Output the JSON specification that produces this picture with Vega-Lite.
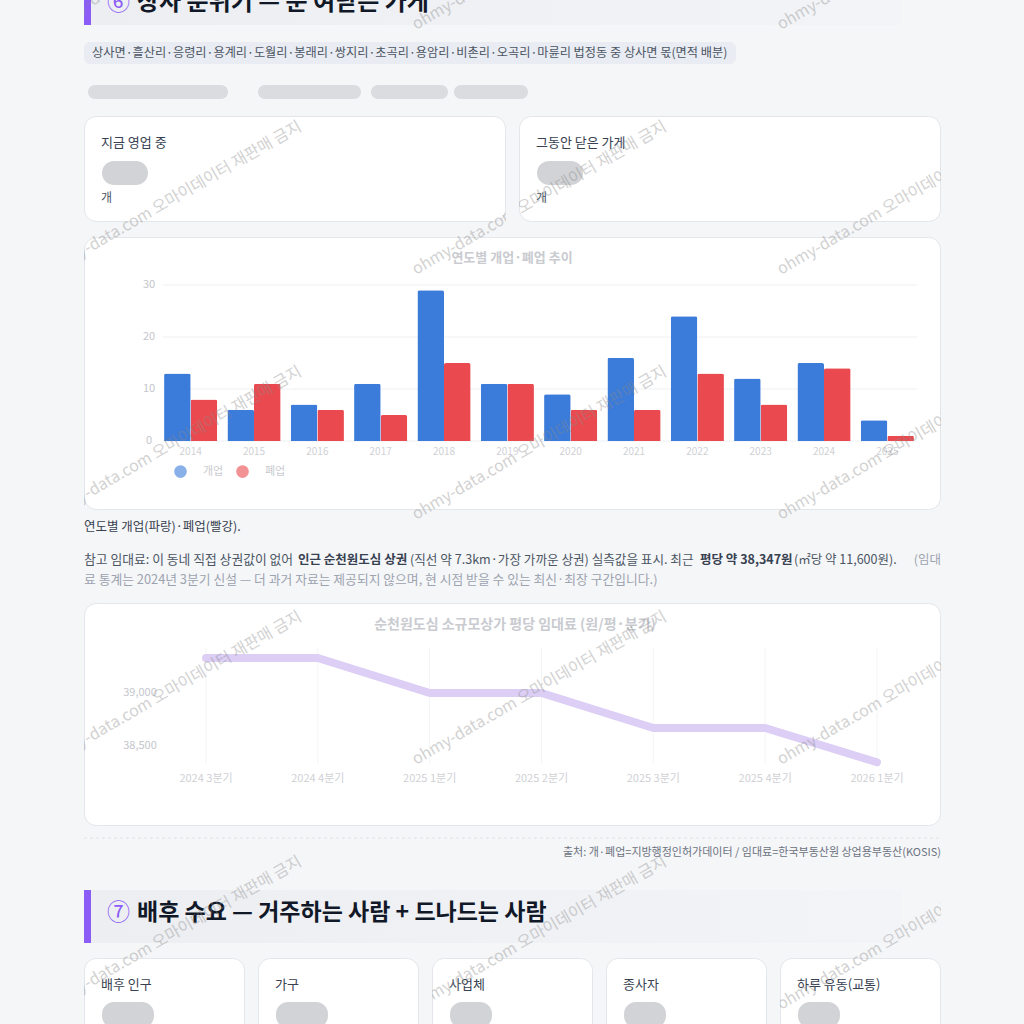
{
  "$schema": "https://vega.github.io/schema/vega-lite/v6.json",
  "background": "#f5f6f8",
  "padding": {"left": 83, "top": 0, "right": 84, "bottom": 0},
  "spacing": 0,
  "resolve": {"legend": {"color": "independent"}, "scale": {"color": "independent"}},
  "config": {
    "font": "Noto Sans CJK KR",
    "view": {"stroke": null},
    "text": {"font": "Noto Sans CJK KR"}
  },
  "vconcat": [
    {
      "width": 857,
      "height": 116,
      "data": {"values": [{"k": 1}]},
      "layer": [
        {"mark": {"type": "rect", "color": {"gradient": "linear", "x1": 0, "x2": 1, "y1": 0, "y2": 0, "stops": [{"offset": 0, "color": "#eceef2"}, {"offset": 1, "color": "#f3f4f7"}]}},
         "encoding": {"x": {"value": 0}, "x2": {"value": 817}, "y": {"value": 0}, "y2": {"value": 25}}},
        {"mark": {"type": "rect", "color": "#8b5cf6"},
         "encoding": {"x": {"value": 0}, "x2": {"value": 7}, "y": {"value": 0}, "y2": {"value": 25}}},
        {"mark": {"type": "text", "text": "⑥", "fontSize": 23, "color": "#8b5cf6", "align": "left", "baseline": "middle", "clip": true},
         "encoding": {"x": {"value": 23}, "y": {"value": 3}}},
        {"mark": {"type": "text", "text": "상사 분위기 — 문 여닫은 가게", "fontSize": 24, "fontWeight": "bold", "color": "#111827", "align": "left", "baseline": "middle", "clip": true},
         "encoding": {"x": {"value": 53}, "y": {"value": 3}}},
        {"mark": {"type": "rect", "color": "#e9ecf2", "cornerRadius": 6},
         "encoding": {"x": {"value": 0}, "x2": {"value": 652}, "y": {"value": 42}, "y2": {"value": 64}}},
        {"mark": {"type": "text", "text": "상사면·흘산리·응령리·용계리·도월리·봉래리·쌍지리·초곡리·용암리·비촌리·오곡리·마륜리 법정동 중 상사면 몫(면적 배분)", "fontSize": 12.2, "color": "#4b5563", "align": "left", "baseline": "middle"},
         "encoding": {"x": {"value": 8}, "y": {"value": 53}}},
        {"mark": {"type": "rect", "color": "#cfd1d6", "opacity": 0.7, "cornerRadius": 7},
         "encoding": {"x": {"value": 4}, "x2": {"value": 144}, "y": {"value": 85}, "y2": {"value": 99}}},
        {"mark": {"type": "rect", "color": "#cfd1d6", "opacity": 0.7, "cornerRadius": 7},
         "encoding": {"x": {"value": 174}, "x2": {"value": 277}, "y": {"value": 85}, "y2": {"value": 99}}},
        {"mark": {"type": "rect", "color": "#cfd1d6", "opacity": 0.7, "cornerRadius": 7},
         "encoding": {"x": {"value": 287}, "x2": {"value": 364}, "y": {"value": 85}, "y2": {"value": 99}}},
        {"mark": {"type": "rect", "color": "#cfd1d6", "opacity": 0.7, "cornerRadius": 7},
         "encoding": {"x": {"value": 370}, "x2": {"value": 444}, "y": {"value": 85}, "y2": {"value": 99}}},
        {"mark": {"type": "text", "text": "ohmy-data.com 오마이데이터 재판매 금지", "angle": -30, "fontSize": 16, "color": "#8a8a8a", "opacity": 0.38, "align": "left", "baseline": "alphabetic", "clip": true},
         "encoding": {"x": {"value": -33}, "y": {"value": 30}}},
        {"mark": {"type": "text", "text": "ohmy-data.com 오마이데이터 재판매 금지", "angle": -30, "fontSize": 16, "color": "#8a8a8a", "opacity": 0.38, "align": "left", "baseline": "alphabetic", "clip": true},
         "encoding": {"x": {"value": 332}, "y": {"value": 30}}},
        {"mark": {"type": "text", "text": "ohmy-data.com 오마이데이터 재판매 금지", "angle": -30, "fontSize": 16, "color": "#8a8a8a", "opacity": 0.38, "align": "left", "baseline": "alphabetic", "clip": true},
         "encoding": {"x": {"value": 697}, "y": {"value": 30}}}
      ]
    },
    {
      "spacing": 13,
      "hconcat": [
        {
          "width": 422, "height": 121,
          "data": {"values": [{"k": 1}]},
          "layer": [
            {"mark": {"type": "rect", "color": "#ffffff", "stroke": "#e3e6eb", "strokeWidth": 1, "cornerRadius": 12},
             "encoding": {"x": {"value": 0.5}, "x2": {"value": 421.5}, "y": {"value": 0.5}, "y2": {"value": 105.5}}},
            {"mark": {"type": "text", "text": "지금 영업 중", "fontSize": 13, "color": "#374151", "align": "left", "baseline": "middle"},
             "encoding": {"x": {"value": 17}, "y": {"value": 27}}},
            {"mark": {"type": "rect", "color": "#b4b6bb", "opacity": 0.6, "cornerRadius": 12},
             "encoding": {"x": {"value": 18}, "x2": {"value": 64}, "y": {"value": 45}, "y2": {"value": 69}}},
            {"mark": {"type": "text", "text": "개", "fontSize": 12, "color": "#4b5563", "align": "left", "baseline": "middle"},
             "encoding": {"x": {"value": 17}, "y": {"value": 82}}},
            {"mark": {"type": "text", "text": "ohmy-data.com 오마이데이터 재판매 금지", "angle": -30, "fontSize": 16, "color": "#8a8a8a", "opacity": 0.38, "align": "left", "baseline": "alphabetic", "clip": true},
             "encoding": {"x": {"value": -33}, "y": {"value": 159}}},
            {"mark": {"type": "text", "text": "ohmy-data.com 오마이데이터 재판매 금지", "angle": -30, "fontSize": 16, "color": "#8a8a8a", "opacity": 0.38, "align": "left", "baseline": "alphabetic", "clip": true},
             "encoding": {"x": {"value": 332}, "y": {"value": 159}}}
          ]
        },
        {
          "width": 422, "height": 121,
          "data": {"values": [{"k": 1}]},
          "layer": [
            {"mark": {"type": "rect", "color": "#ffffff", "stroke": "#e3e6eb", "strokeWidth": 1, "cornerRadius": 12},
             "encoding": {"x": {"value": 0.5}, "x2": {"value": 421.5}, "y": {"value": 0.5}, "y2": {"value": 105.5}}},
            {"mark": {"type": "text", "text": "그동안 닫은 가게", "fontSize": 13, "color": "#374151", "align": "left", "baseline": "middle"},
             "encoding": {"x": {"value": 17}, "y": {"value": 27}}},
            {"mark": {"type": "rect", "color": "#b4b6bb", "opacity": 0.6, "cornerRadius": 12},
             "encoding": {"x": {"value": 18}, "x2": {"value": 64}, "y": {"value": 45}, "y2": {"value": 69}}},
            {"mark": {"type": "text", "text": "개", "fontSize": 12, "color": "#4b5563", "align": "left", "baseline": "middle"},
             "encoding": {"x": {"value": 17}, "y": {"value": 82}}},
            {"mark": {"type": "text", "text": "ohmy-data.com 오마이데이터 재판매 금지", "angle": -30, "fontSize": 16, "color": "#8a8a8a", "opacity": 0.38, "align": "left", "baseline": "alphabetic", "clip": true},
             "encoding": {"x": {"value": -103}, "y": {"value": 159}}},
            {"mark": {"type": "text", "text": "ohmy-data.com 오마이데이터 재판매 금지", "angle": -30, "fontSize": 16, "color": "#8a8a8a", "opacity": 0.38, "align": "left", "baseline": "alphabetic", "clip": true},
             "encoding": {"x": {"value": 262}, "y": {"value": 159}}}
          ]
        }
      ]
    },
    {
      "width": 857, "height": 273,
      "layer": [
        {"data": {"values": [{"k": 1}]},
         "mark": {"type": "rect", "color": "#ffffff", "stroke": "#e3e6eb", "strokeWidth": 1, "cornerRadius": 12},
         "encoding": {"x": {"value": 0.5}, "x2": {"value": 856.5}, "y": {"value": 0.5}, "y2": {"value": 272.5}}},
        {"data": {"values": [{"t": "연도별 개업·폐업 추이"}]},
         "mark": {"type": "text", "fontSize": 13, "fontWeight": "bold", "color": "#c9cbd0", "baseline": "middle"},
         "encoding": {"text": {"field": "t", "type": "nominal"}, "x": {"value": 428}, "y": {"value": 21}}},
        {"data": {"values": [{"v": 0}, {"v": 10}, {"v": 20}, {"v": 30}]},
         "mark": {"type": "rule", "color": "#eef0f3"},
         "encoding": {"y": {"field": "v", "type": "quantitative", "scale": {"domain": [0, 30], "range": [204, 48], "nice": false}, "axis": null},
                      "x": {"value": 79}, "x2": {"value": 833}}},
        {"data": {"values": [{"v": 0}, {"v": 10}, {"v": 20}, {"v": 30}]},
         "mark": {"type": "text", "fontSize": 11, "color": "#c4c6cb", "baseline": "middle"},
         "encoding": {"y": {"field": "v", "type": "quantitative", "axis": null},
                      "x": {"value": 65}, "text": {"field": "v", "type": "quantitative"}}},
        {"data": {"values": [
          {"year": 2014, "kind": "개업", "n": 13}, {"year": 2014, "kind": "폐업", "n": 8},
          {"year": 2015, "kind": "개업", "n": 6}, {"year": 2015, "kind": "폐업", "n": 11},
          {"year": 2016, "kind": "개업", "n": 7}, {"year": 2016, "kind": "폐업", "n": 6},
          {"year": 2017, "kind": "개업", "n": 11}, {"year": 2017, "kind": "폐업", "n": 5},
          {"year": 2018, "kind": "개업", "n": 29}, {"year": 2018, "kind": "폐업", "n": 15},
          {"year": 2019, "kind": "개업", "n": 11}, {"year": 2019, "kind": "폐업", "n": 11},
          {"year": 2020, "kind": "개업", "n": 9}, {"year": 2020, "kind": "폐업", "n": 6},
          {"year": 2021, "kind": "개업", "n": 16}, {"year": 2021, "kind": "폐업", "n": 6},
          {"year": 2022, "kind": "개업", "n": 24}, {"year": 2022, "kind": "폐업", "n": 13},
          {"year": 2023, "kind": "개업", "n": 12}, {"year": 2023, "kind": "폐업", "n": 7},
          {"year": 2024, "kind": "개업", "n": 15}, {"year": 2024, "kind": "폐업", "n": 14},
          {"year": 2025, "kind": "개업", "n": 4}, {"year": 2025, "kind": "폐업", "n": 1}
         ]},
         "mark": {"type": "bar", "cornerRadiusTopLeft": 2, "cornerRadiusTopRight": 2},
         "encoding": {
           "x": {"field": "year", "type": "ordinal", "scale": {"range": [75, 835], "paddingInner": 0.16, "paddingOuter": 0.08}, "axis": null},
           "xOffset": {"field": "kind", "type": "nominal", "sort": ["개업", "폐업"], "scale": {"paddingInner": 0}},
           "y": {"field": "n", "type": "quantitative", "axis": null},
           "color": {"field": "kind", "type": "nominal",
                     "scale": {"domain": ["개업", "폐업"], "range": ["#3b7bd9", "#ea4a4f"]},
                     "legend": {"orient": "none", "legendX": 90, "legendY": 228, "direction": "horizontal", "title": null,
                                "symbolType": "circle", "symbolSize": 160, "symbolOpacity": 0.6, "symbolStrokeWidth": 0,
                                "labelColor": "#c9cbd0", "labelFontSize": 11, "labelOffset": 16, "columnPadding": 12, "padding": 0}}
         }},
        {"data": {"values": [{"year": 2014}, {"year": 2015}, {"year": 2016}, {"year": 2017}, {"year": 2018}, {"year": 2019}, {"year": 2020}, {"year": 2021}, {"year": 2022}, {"year": 2023}, {"year": 2024}, {"year": 2025}]},
         "mark": {"type": "text", "fontSize": 10, "color": "#cfd1d5", "baseline": "middle"},
         "encoding": {"x": {"field": "year", "type": "ordinal", "axis": null}, "y": {"value": 215}, "text": {"field": "year", "type": "nominal"}}},
        {"data": {"values": [{"k": 1}]},
         "mark": {"type": "text", "text": "ohmy-data.com 오마이데이터 재판매 금지", "angle": -30, "fontSize": 16, "color": "#8a8a8a", "opacity": 0.38, "align": "left", "baseline": "alphabetic", "clip": true},
         "encoding": {"x": {"value": -33}, "y": {"value": 38}}},
        {"data": {"values": [{"k": 1}]},
         "mark": {"type": "text", "text": "ohmy-data.com 오마이데이터 재판매 금지", "angle": -30, "fontSize": 16, "color": "#8a8a8a", "opacity": 0.38, "align": "left", "baseline": "alphabetic", "clip": true},
         "encoding": {"x": {"value": 332}, "y": {"value": 38}}},
        {"data": {"values": [{"k": 1}]},
         "mark": {"type": "text", "text": "ohmy-data.com 오마이데이터 재판매 금지", "angle": -30, "fontSize": 16, "color": "#8a8a8a", "opacity": 0.38, "align": "left", "baseline": "alphabetic", "clip": true},
         "encoding": {"x": {"value": 697}, "y": {"value": 38}}},
        {"data": {"values": [{"k": 1}]},
         "mark": {"type": "text", "text": "ohmy-data.com 오마이데이터 재판매 금지", "angle": -30, "fontSize": 16, "color": "#8a8a8a", "opacity": 0.38, "align": "left", "baseline": "alphabetic", "clip": true},
         "encoding": {"x": {"value": -33}, "y": {"value": 283}}},
        {"data": {"values": [{"k": 1}]},
         "mark": {"type": "text", "text": "ohmy-data.com 오마이데이터 재판매 금지", "angle": -30, "fontSize": 16, "color": "#8a8a8a", "opacity": 0.38, "align": "left", "baseline": "alphabetic", "clip": true},
         "encoding": {"x": {"value": 332}, "y": {"value": 283}}},
        {"data": {"values": [{"k": 1}]},
         "mark": {"type": "text", "text": "ohmy-data.com 오마이데이터 재판매 금지", "angle": -30, "fontSize": 16, "color": "#8a8a8a", "opacity": 0.38, "align": "left", "baseline": "alphabetic", "clip": true},
         "encoding": {"x": {"value": 697}, "y": {"value": 283}}}
      ]
    },
    {
      "width": 857, "height": 93,
      "data": {"values": [{"k": 1}]},
      "layer": [
        {"mark": {"type": "text", "text": "연도별 개업(파랑)·폐업(빨강).", "fontSize": 12.5, "color": "#374151", "align": "left", "baseline": "middle"},
         "encoding": {"x": {"value": 0}, "y": {"value": 17}}},
        {"mark": {"type": "text", "text": "참고 임대료: 이 동네 직접 상권값이 없어", "fontSize": 12.8, "color": "#4b5563", "align": "left", "baseline": "middle"},
         "encoding": {"x": {"value": 0}, "y": {"value": 50}}},
        {"mark": {"type": "text", "text": "인근 순천원도심 상권", "fontSize": 12.5, "fontWeight": "bold", "color": "#374151", "align": "left", "baseline": "middle"},
         "encoding": {"x": {"value": 214}, "y": {"value": 50}}},
        {"mark": {"type": "text", "text": "(직선 약 7.3km·가장 가까운 상권) 실측값을 표시. 최근", "fontSize": 12.6, "color": "#4b5563", "align": "left", "baseline": "middle"},
         "encoding": {"x": {"value": 326}, "y": {"value": 50}}},
        {"mark": {"type": "text", "text": "평당 약 38,347원", "fontSize": 12.5, "fontWeight": "bold", "color": "#374151", "align": "left", "baseline": "middle"},
         "encoding": {"x": {"value": 616}, "y": {"value": 50}}},
        {"mark": {"type": "text", "text": "(㎡당 약 11,600원).", "fontSize": 12.5, "color": "#4b5563", "align": "left", "baseline": "middle"},
         "encoding": {"x": {"value": 710}, "y": {"value": 50}}},
        {"mark": {"type": "text", "text": "(임대", "fontSize": 12.5, "color": "#9ca3af", "align": "right", "baseline": "middle"},
         "encoding": {"x": {"value": 857}, "y": {"value": 50}}},
        {"mark": {"type": "text", "text": "료 통계는 2024년 3분기 신설 — 더 과거 자료는 제공되지 않으며, 현 시점 받을 수 있는 최신·최장 구간입니다.)", "fontSize": 12.8, "color": "#9ca3af", "align": "left", "baseline": "middle"},
         "encoding": {"x": {"value": 0}, "y": {"value": 70}}},
        {"mark": {"type": "text", "text": "ohmy-data.com 오마이데이터 재판매 금지", "angle": -30, "fontSize": 16, "color": "#8a8a8a", "opacity": 0.38, "align": "left", "baseline": "alphabetic", "clip": true},
         "encoding": {"x": {"value": 332}, "y": {"value": 10}}},
        {"mark": {"type": "text", "text": "ohmy-data.com 오마이데이터 재판매 금지", "angle": -30, "fontSize": 16, "color": "#8a8a8a", "opacity": 0.38, "align": "left", "baseline": "alphabetic", "clip": true},
         "encoding": {"x": {"value": 697}, "y": {"value": 10}}}
      ]
    },
    {
      "width": 857, "height": 223,
      "layer": [
        {"data": {"values": [{"k": 1}]},
         "mark": {"type": "rect", "color": "#ffffff", "stroke": "#e3e6eb", "strokeWidth": 1, "cornerRadius": 12},
         "encoding": {"x": {"value": 0.5}, "x2": {"value": 856.5}, "y": {"value": 0.5}, "y2": {"value": 222.5}}},
        {"data": {"values": [{"t": "순천원도심 소규모상가 평당 임대료 (원/평·분기)"}]},
         "mark": {"type": "text", "fontSize": 14, "fontWeight": "bold", "color": "#c9cbd0", "baseline": "middle"},
         "encoding": {"text": {"field": "t", "type": "nominal"}, "x": {"value": 431}, "y": {"value": 22}}},
        {"data": {"values": [{"q": "2024 3분기"}, {"q": "2024 4분기"}, {"q": "2025 1분기"}, {"q": "2025 2분기"}, {"q": "2025 3분기"}, {"q": "2025 4분기"}, {"q": "2026 1분기"}]},
         "mark": {"type": "rule", "color": "#f3f4f6"},
         "encoding": {"x": {"field": "q", "type": "ordinal", "sort": null, "scale": {"type": "point", "range": [122, 793], "padding": 0}, "axis": null}, "y": {"value": 45}, "y2": {"value": 160}}},
        {"data": {"values": [{"v": 38500}, {"v": 39000}]},
         "mark": {"type": "text", "fontSize": 11, "color": "#c4c6cb", "baseline": "middle"},
         "encoding": {"y": {"field": "v", "type": "quantitative", "scale": {"domain": [38500, 39000], "range": [143, 90], "nice": false, "zero": false}, "axis": null},
                      "x": {"value": 56}, "text": {"field": "v", "type": "quantitative", "format": ","}}},
        {"data": {"values": [
          {"q": "2024 3분기", "rent": 39330}, {"q": "2024 4분기", "rent": 39330}, {"q": "2025 1분기", "rent": 39000},
          {"q": "2025 2분기", "rent": 39000}, {"q": "2025 3분기", "rent": 38670}, {"q": "2025 4분기", "rent": 38670},
          {"q": "2026 1분기", "rent": 38347}
         ]},
         "mark": {"type": "line", "color": "#dccef5", "strokeWidth": 8, "strokeCap": "round", "strokeJoin": "round"},
         "encoding": {"x": {"field": "q", "type": "ordinal", "sort": null, "axis": null}, "y": {"field": "rent", "type": "quantitative", "axis": null}}},
        {"data": {"values": [{"q": "2024 3분기"}, {"q": "2024 4분기"}, {"q": "2025 1분기"}, {"q": "2025 2분기"}, {"q": "2025 3분기"}, {"q": "2025 4분기"}, {"q": "2026 1분기"}]},
         "mark": {"type": "text", "fontSize": 11, "color": "#cfd1d5", "baseline": "middle"},
         "encoding": {"x": {"field": "q", "type": "ordinal", "sort": null, "axis": null}, "y": {"value": 176}, "text": {"field": "q", "type": "nominal"}}},
        {"data": {"values": [{"k": 1}]},
         "mark": {"type": "text", "text": "ohmy-data.com 오마이데이터 재판매 금지", "angle": -30, "fontSize": 16, "color": "#8a8a8a", "opacity": 0.38, "align": "left", "baseline": "alphabetic", "clip": true},
         "encoding": {"x": {"value": -33}, "y": {"value": 162}}},
        {"data": {"values": [{"k": 1}]},
         "mark": {"type": "text", "text": "ohmy-data.com 오마이데이터 재판매 금지", "angle": -30, "fontSize": 16, "color": "#8a8a8a", "opacity": 0.38, "align": "left", "baseline": "alphabetic", "clip": true},
         "encoding": {"x": {"value": 332}, "y": {"value": 162}}},
        {"data": {"values": [{"k": 1}]},
         "mark": {"type": "text", "text": "ohmy-data.com 오마이데이터 재판매 금지", "angle": -30, "fontSize": 16, "color": "#8a8a8a", "opacity": 0.38, "align": "left", "baseline": "alphabetic", "clip": true},
         "encoding": {"x": {"value": 697}, "y": {"value": 162}}}
      ]
    },
    {
      "width": 857, "height": 132,
      "data": {"values": [{"k": 1}]},
      "layer": [
        {"mark": {"type": "rule", "color": "#dfe2e7", "strokeDash": [3, 3]},
         "encoding": {"x": {"value": 0}, "x2": {"value": 857}, "y": {"value": 12}}},
        {"mark": {"type": "text", "text": "출처: 개·폐업=지방행정인허가데이터 / 임대료=한국부동산원 상업용부동산(KOSIS)", "fontSize": 11, "color": "#6b7280", "align": "right", "baseline": "middle"},
         "encoding": {"x": {"value": 857}, "y": {"value": 27}}},
        {"mark": {"type": "rect", "color": {"gradient": "linear", "x1": 0, "x2": 1, "y1": 0, "y2": 0, "stops": [{"offset": 0, "color": "#eceef2"}, {"offset": 1, "color": "#f3f4f7"}]}},
         "encoding": {"x": {"value": 0}, "x2": {"value": 817}, "y": {"value": 64}, "y2": {"value": 117}}},
        {"mark": {"type": "rect", "color": "#8b5cf6"},
         "encoding": {"x": {"value": 0}, "x2": {"value": 7}, "y": {"value": 64}, "y2": {"value": 117}}},
        {"mark": {"type": "text", "text": "⑦", "fontSize": 23, "color": "#8b5cf6", "align": "left", "baseline": "middle"},
         "encoding": {"x": {"value": 23}, "y": {"value": 87}}},
        {"mark": {"type": "text", "text": "배후 수요 — 거주하는 사람 + 드나드는 사람", "fontSize": 23, "fontWeight": "bold", "color": "#111827", "align": "left", "baseline": "middle"},
         "encoding": {"x": {"value": 53}, "y": {"value": 87}}},
        {"mark": {"type": "text", "text": "ohmy-data.com 오마이데이터 재판매 금지", "angle": -30, "fontSize": 16, "color": "#8a8a8a", "opacity": 0.38, "align": "left", "baseline": "alphabetic", "clip": true},
         "encoding": {"x": {"value": -33}, "y": {"value": 184}}},
        {"mark": {"type": "text", "text": "ohmy-data.com 오마이데이터 재판매 금지", "angle": -30, "fontSize": 16, "color": "#8a8a8a", "opacity": 0.38, "align": "left", "baseline": "alphabetic", "clip": true},
         "encoding": {"x": {"value": 332}, "y": {"value": 184}}},
        {"mark": {"type": "text", "text": "ohmy-data.com 오마이데이터 재판매 금지", "angle": -30, "fontSize": 16, "color": "#8a8a8a", "opacity": 0.38, "align": "left", "baseline": "alphabetic", "clip": true},
         "encoding": {"x": {"value": 697}, "y": {"value": 184}}}
      ]
    },
    {
      "spacing": 13,
      "hconcat": [
        {"width": 161, "height": 66, "data": {"values": [{"label": "배후 인구"}]},
         "layer": [
           {"mark": {"type": "rect", "color": "#ffffff", "stroke": "#e3e6eb", "strokeWidth": 1, "cornerRadius": 12, "clip": true},
            "encoding": {"x": {"value": 0.5}, "x2": {"value": 160.5}, "y": {"value": 0.5}, "y2": {"value": 130}}},
           {"mark": {"type": "text", "fontSize": 13, "color": "#374151", "align": "left", "baseline": "middle"},
            "encoding": {"text": {"field": "label", "type": "nominal"}, "x": {"value": 17}, "y": {"value": 27}}},
           {"mark": {"type": "rect", "color": "#b4b6bb", "opacity": 0.6, "cornerRadius": 12, "clip": true},
            "encoding": {"x": {"value": 18}, "x2": {"value": 70}, "y": {"value": 44}, "y2": {"value": 70}}},
           {"mark": {"type": "text", "text": "ohmy-data.com 오마이데이터 재판매 금지", "angle": -30, "fontSize": 16, "color": "#8a8a8a", "opacity": 0.38, "align": "left", "baseline": "alphabetic", "clip": true},
            "encoding": {"x": {"value": -33}, "y": {"value": 52}}}
         ]},
        {"width": 161, "height": 66, "data": {"values": [{"label": "가구"}]},
         "layer": [
           {"mark": {"type": "rect", "color": "#ffffff", "stroke": "#e3e6eb", "strokeWidth": 1, "cornerRadius": 12, "clip": true},
            "encoding": {"x": {"value": 0.5}, "x2": {"value": 160.5}, "y": {"value": 0.5}, "y2": {"value": 130}}},
           {"mark": {"type": "text", "fontSize": 13, "color": "#374151", "align": "left", "baseline": "middle"},
            "encoding": {"text": {"field": "label", "type": "nominal"}, "x": {"value": 17}, "y": {"value": 27}}},
           {"mark": {"type": "rect", "color": "#b4b6bb", "opacity": 0.6, "cornerRadius": 12, "clip": true},
            "encoding": {"x": {"value": 18}, "x2": {"value": 70}, "y": {"value": 44}, "y2": {"value": 70}}}
         ]},
        {"width": 161, "height": 66, "data": {"values": [{"label": "사업체"}]},
         "layer": [
           {"mark": {"type": "rect", "color": "#ffffff", "stroke": "#e3e6eb", "strokeWidth": 1, "cornerRadius": 12, "clip": true},
            "encoding": {"x": {"value": 0.5}, "x2": {"value": 160.5}, "y": {"value": 0.5}, "y2": {"value": 130}}},
           {"mark": {"type": "text", "fontSize": 13, "color": "#374151", "align": "left", "baseline": "middle"},
            "encoding": {"text": {"field": "label", "type": "nominal"}, "x": {"value": 17}, "y": {"value": 27}}},
           {"mark": {"type": "rect", "color": "#b4b6bb", "opacity": 0.6, "cornerRadius": 12, "clip": true},
            "encoding": {"x": {"value": 18}, "x2": {"value": 60}, "y": {"value": 44}, "y2": {"value": 70}}},
           {"mark": {"type": "text", "text": "ohmy-data.com 오마이데이터 재판매 금지", "angle": -30, "fontSize": 16, "color": "#8a8a8a", "opacity": 0.38, "align": "left", "baseline": "alphabetic", "clip": true},
            "encoding": {"x": {"value": -16}, "y": {"value": 52}}}
         ]},
        {"width": 161, "height": 66, "data": {"values": [{"label": "종사자"}]},
         "layer": [
           {"mark": {"type": "rect", "color": "#ffffff", "stroke": "#e3e6eb", "strokeWidth": 1, "cornerRadius": 12, "clip": true},
            "encoding": {"x": {"value": 0.5}, "x2": {"value": 160.5}, "y": {"value": 0.5}, "y2": {"value": 130}}},
           {"mark": {"type": "text", "fontSize": 13, "color": "#374151", "align": "left", "baseline": "middle"},
            "encoding": {"text": {"field": "label", "type": "nominal"}, "x": {"value": 17}, "y": {"value": 27}}},
           {"mark": {"type": "rect", "color": "#b4b6bb", "opacity": 0.6, "cornerRadius": 12, "clip": true},
            "encoding": {"x": {"value": 18}, "x2": {"value": 60}, "y": {"value": 44}, "y2": {"value": 70}}}
         ]},
        {"width": 161, "height": 66, "data": {"values": [{"label": "하루 유동(교통)"}]},
         "layer": [
           {"mark": {"type": "rect", "color": "#ffffff", "stroke": "#e3e6eb", "strokeWidth": 1, "cornerRadius": 12, "clip": true},
            "encoding": {"x": {"value": 0.5}, "x2": {"value": 160.5}, "y": {"value": 0.5}, "y2": {"value": 130}}},
           {"mark": {"type": "text", "fontSize": 13, "color": "#374151", "align": "left", "baseline": "middle"},
            "encoding": {"text": {"field": "label", "type": "nominal"}, "x": {"value": 17}, "y": {"value": 27}}},
           {"mark": {"type": "rect", "color": "#b4b6bb", "opacity": 0.6, "cornerRadius": 12, "clip": true},
            "encoding": {"x": {"value": 18}, "x2": {"value": 60}, "y": {"value": 44}, "y2": {"value": 70}}},
           {"mark": {"type": "text", "text": "ohmy-data.com 오마이데이터 재판매 금지", "angle": -30, "fontSize": 16, "color": "#8a8a8a", "opacity": 0.38, "align": "left", "baseline": "alphabetic", "clip": true},
            "encoding": {"x": {"value": 1}, "y": {"value": 52}}}
         ]}
      ]
    }
  ]
}
